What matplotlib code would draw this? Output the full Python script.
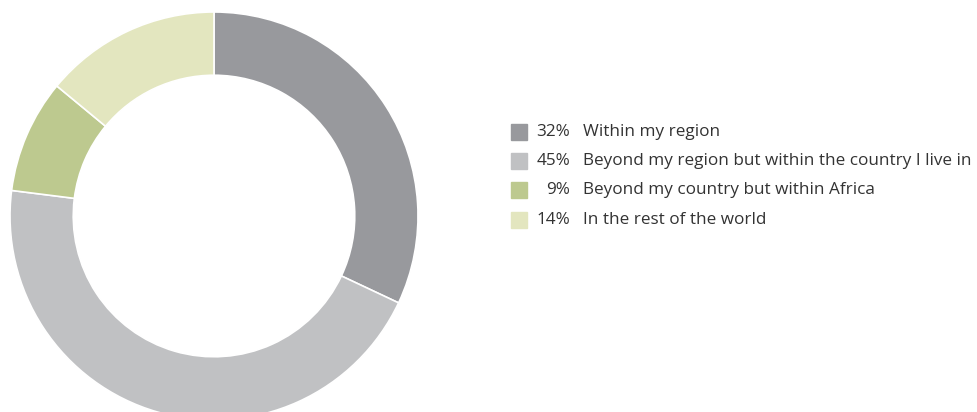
import matplotlib.pyplot as plt
from matplotlib.patches import Rectangle

labels = ["Within my region",
          "Beyond my region but within the country I live in",
          "Beyond my country but within Africa",
          "In the rest of the world"]
values = [32, 45, 9, 14]
colors = ["#98999d", "#c0c1c3", "#bdc98f", "#e3e6bf"]

W, H = 977, 412
fig = plt.figure(figsize=(W / 100, H / 100), dpi=100)
plt.rcParams["font.family"] = ["Open Sans", "DejaVu Sans"]

# donut: centre (214, 216) px, radius 204 px
cx, cy, r = 214, 216, 204
ax = fig.add_axes([(cx - r) / W, (H - cy - r) / H, 2 * r / W, 2 * r / H])
ax.pie(values, colors=colors, startangle=90, counterclock=False, radius=1,
       wedgeprops=dict(width=0.31, edgecolor="white", linewidth=1.2))
ax.set_xlim(-1, 1)
ax.set_ylim(-1, 1)
ax.axis("off")

# legend
y0, dy = 132, 29.2
for i, (lab, v, c) in enumerate(zip(labels, values, colors)):
    y = y0 + i * dy
    fig.patches.append(Rectangle((511 / W, (H - y - 8) / H), 16 / W, 16 / H,
                                 transform=fig.transFigure, color=c))
    fig.text(570 / W, (H - y) / H, f"{v}%", ha="right", va="center",
             fontsize=12.3, color="#333333")
    fig.text(583 / W, (H - y) / H, lab, ha="left", va="center",
             fontsize=12.3, color="#333333")

fig.savefig("out.png", dpi=100)
